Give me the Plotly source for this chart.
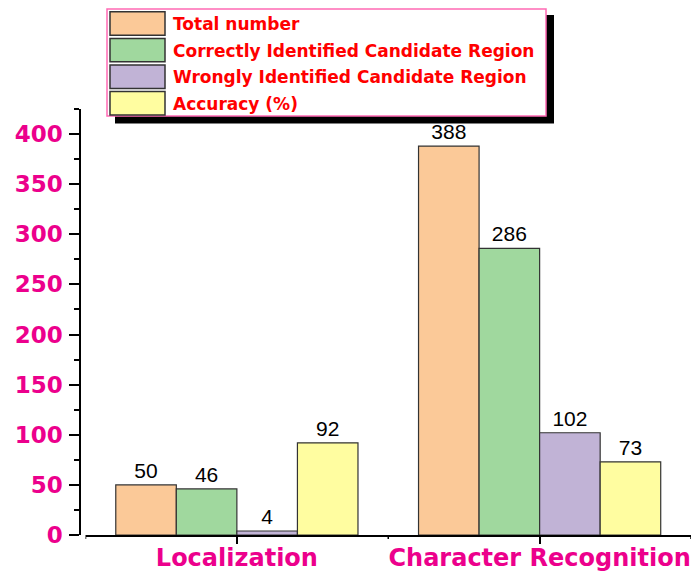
import plotly.graph_objects as go

categories = ["Localization", "Character Recognition"]
series_names = ["Total number", "Correctly Identified Candidate Region",
                "Wrongly Identified Candidate Region", "Accuracy (%)"]
total_number = [50, 388]
correct_region = [46, 286]
wrong_region = [4, 102]
accuracy = [92, 73]
series_values = [total_number, correct_region, wrong_region, accuracy]
colors = ["#FBC998", "#A0D89E", "#C1B3D6", "#FFFDA0"]
y_ticks = [0, 50, 100, 150, 200, 250, 300, 350, 400]

W, H = 691, 575
ML, MR, MT, MB = 80, 0, 109, 40
PW, PH = W - ML - MR, H - MT - MB

def xp(px):
    return (px - ML) / PW

def yp(py):
    return (H - MB - py) / PH

PINK = "#EC008C"

fig = go.Figure()
for name, vals, col in zip(series_names, series_values, colors):
    fig.add_trace(go.Bar(
        x=categories, y=vals, name=name,
        marker=dict(color=col, line=dict(color="#333333", width=1.2)),
        texttemplate="%{y}", textposition="outside", constraintext="none",
        textfont=dict(family="Liberation Sans, Arial", size=21, color="black"),
        cliponaxis=False, showlegend=False,
    ))

shapes = []
# boundary ticks on x axis
for b in [-0.5, 0.5, 1.5]:
    shapes.append(dict(type="line", xref="x", yref="paper", x0=b, x1=b,
                       y0=0, y1=-4 / PH, line=dict(color="black", width=1.5)))

# legend: shadow, box, swatches
shapes.append(dict(type="rect", xref="paper", yref="paper",
                   x0=xp(115), x1=xp(554), y0=yp(15), y1=yp(123.5),
                   fillcolor="black", line=dict(width=0), layer="above"))
shapes.append(dict(type="rect", xref="paper", yref="paper",
                   x0=xp(107), x1=xp(546), y0=yp(9), y1=yp(116),
                   fillcolor="white", line=dict(color="#FF69B4", width=1.5), layer="above"))
annotations = []
for i, (name, col) in enumerate(zip(series_names, colors)):
    cy = 23.5 + i * 26.6
    shapes.append(dict(type="rect", xref="paper", yref="paper",
                       x0=xp(110), x1=xp(165), y0=yp(cy - 11.7), y1=yp(cy + 11.7),
                       fillcolor=col, line=dict(color="#333333", width=1.5), layer="above"))
    annotations.append(dict(xref="paper", yref="paper", x=xp(171), y=yp(cy + 0.5),
                            xanchor="left", yanchor="middle", showarrow=False,
                            text=name,
                            font=dict(family="DejaVu Sans", size=17, color="#FF0000",
                                      weight="bold")))

fig.update_layout(
    width=W, height=H,
    margin=dict(l=ML, r=MR, t=MT, b=MB, autoexpand=False),
    plot_bgcolor="white", paper_bgcolor="white",
    barmode="group", bargap=0.2, bargroupgap=0,
    shapes=shapes, annotations=annotations,
    xaxis=dict(domain=[(85.5 - ML) / PW, 1], range=[-0.5, 1.5], automargin=False,
               showline=True, linecolor="black", linewidth=2,
               ticks="outside", ticklen=7, tickwidth=1.5, tickcolor="black",
               tickfont=dict(family="DejaVu Sans", size=24, color=PINK, weight="bold"),
               showgrid=False, zeroline=False, ticklabelstandoff=-7),
    yaxis=dict(range=[0, 425], anchor="free", position=0, automargin=False,
               tickvals=y_ticks,
               showline=True, linecolor="black", linewidth=1.5,
               ticks="outside", ticklen=10, tickwidth=1.5, tickcolor="black",
               minor=dict(dtick=25, ticks="outside", ticklen=5, tickwidth=1.5, tickcolor="black"),
               tickfont=dict(family="DejaVu Sans", size=23, color=PINK, weight="bold"),
               showgrid=False, zeroline=False, ticklabelstandoff=2),
)

fig.write_html("out.html",
               config=dict(displayModeBar=False),
               post_script="document.body.style.margin='0';document.body.style.overflow='hidden';")
